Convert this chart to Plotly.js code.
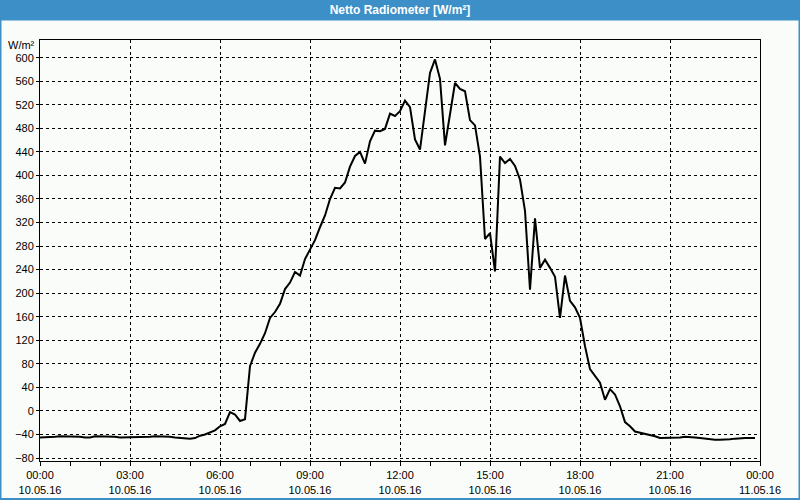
<!DOCTYPE html>
<html>
<head>
<meta charset="utf-8">
<script src="https://cdn.plot.ly/plotly-3.0.1.min.js"></script>
<style>
html,body{margin:0;padding:0;background:#fafcfa;}
#chart{width:800px;height:500px;}
</style>
</head>
<body>
<div id="chart"></div>
<script>
// Series: Netto Radiometer, 10-minute samples starting 10.05.16 00:00
const startTime = '2016-05-10 00:00';
const stepMs = 600000; // 10 minutes
const netRadiation = [
  -45,-45,-44,-44,-43,-43,-43,-43,-44,-45,
  -45,-43,-43,-43,-43,-44,-45,-45,-45,-45,
  -45,-45,-44,-43,-43,-43,-44,-45,-46,-47,
  -47,-46,-42,-40,-37,-33,-26,-22,-2,-6,
  -17,-14,76,99,114,132,158,168,182,207,
  218,236,230,258,274,290,312,332,360,379,
  378,388,415,433,440,420,458,476,475,479,
  505,501,509,527,516,461,444,509,574,597,
  564,451,503,557,547,543,494,485,432,292,
  302,237,432,421,428,416,393,340,206,327,
  243,257,243,228,158,230,187,176,158,110,
  71,59,48,19,37,28,8,-19,-26,-35,
  -37,-38,-40,-43,-46,-46,-46,-45,-45,-44,
  -44,-45,-46,-47,-49,-49,-49,-49,-48,-47,
  -46,-46,-46,-46
];
const titleText = 'Netto Radiometer [W/m²]';
const unitLabel = 'W/m²';

const blue = '#3d8fc7';
const bg = '#fafcfa';
const fontFam = '"Liberation Sans", Arial, sans-serif';

// paper-coordinate helpers for decorations outside the plot area
const L = 40, R = 40, T = 40, B = 39, W = 800, H = 500;
const pw = W - L - R, ph = H - T - B;
const px = x => (x - L) / pw;
const py = y => (H - B - y) / ph;

const trace = {
  type: 'scatter',
  mode: 'lines',
  x0: startTime,
  dx: stepMs,
  y: netRadiation,
  line: {color: '#000000', width: 2},
  hoverinfo: 'x+y'
};

const layout = {
  width: W, height: H,
  margin: {l: L, r: R, t: T, b: B, pad: 0},
  paper_bgcolor: bg,
  plot_bgcolor: bg,
  showlegend: false,
  font: {family: fontFam, size: 11, color: '#000'},
  title: {
    text: '<b>' + titleText + '</b>',
    font: {family: fontFam, size: 12, color: '#ffffff'},
    x: 0.5, xref: 'container', xanchor: 'center',
    y: 1 - 10 / H, yref: 'container', yanchor: 'middle'
  },
  xaxis: {
    type: 'date',
    range: ['2016-05-10 00:00', '2016-05-11 00:00'],
    tick0: '2016-05-10 00:00',
    dtick: 10800000,
    tickformat: '%H:%M<br>%d.%m.%y',
    ticks: 'outside', ticklen: 4, tickcolor: '#000', tickwidth: 1,
    showline: true, mirror: true, linecolor: '#000', linewidth: 1,
    showgrid: true, gridcolor: '#000', gridwidth: 1, griddash: '3px,3px',
    zeroline: false,
    minor: {dtick: 3600000, ticks: 'outside', ticklen: 4, tickcolor: '#000', showgrid: false},
    tickfont: {family: fontFam, size: 11, color: '#000'},
    fixedrange: true
  },
  yaxis: {
    range: [-85, 630],
    tick0: 0, dtick: 40,
    ticks: 'outside', ticklen: 3, tickcolor: '#000', tickwidth: 1,
    showline: true, mirror: true, linecolor: '#000', linewidth: 1,
    showgrid: true, gridcolor: '#000', gridwidth: 1, griddash: '3px,3px',
    zeroline: false,
    tickfont: {family: fontFam, size: 11, color: '#000'},
    fixedrange: true
  },
  shapes: [
    // title bar
    {type: 'rect', xref: 'paper', yref: 'paper', x0: px(0), x1: px(800), y0: py(20.5), y1: py(0),
     fillcolor: blue, line: {width: 0}, layer: 'below'},
    // left border
    {type: 'rect', xref: 'paper', yref: 'paper', x0: px(0), x1: px(1.5), y0: py(500), y1: py(0),
     fillcolor: blue, line: {width: 0}, layer: 'below'},
    // right border
    {type: 'rect', xref: 'paper', yref: 'paper', x0: px(798.5), x1: px(800), y0: py(500), y1: py(0),
     fillcolor: blue, line: {width: 0}, layer: 'below'},
    // bottom border
    {type: 'rect', xref: 'paper', yref: 'paper', x0: px(0), x1: px(800), y0: py(500), y1: py(498),
     fillcolor: blue, line: {width: 0}, layer: 'below'}
  ],
  annotations: [
    {text: unitLabel, xref: 'paper', yref: 'paper', x: px(37), y: py(45),
     xanchor: 'right', yanchor: 'middle', showarrow: false,
     font: {family: fontFam, size: 11, color: '#000'}}
  ]
};

Plotly.newPlot('chart', [trace], layout, {displayModeBar: false, staticPlot: true});
</script>
</body>
</html>
